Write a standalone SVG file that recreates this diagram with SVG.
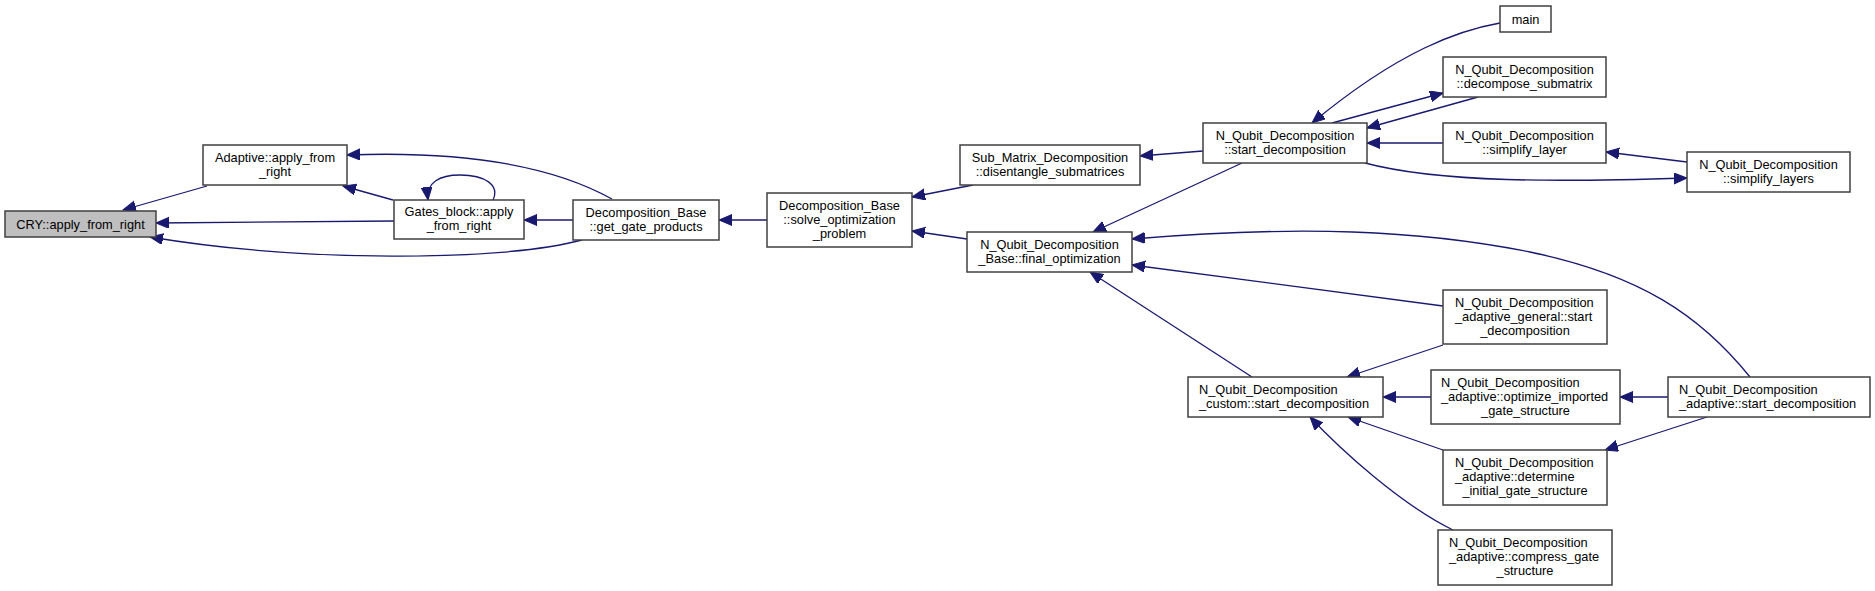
<svg xmlns="http://www.w3.org/2000/svg" width="1875" height="591" viewBox="0 0 1875 591">
<style>
.n rect{fill:#ffffff;stroke:#404040;stroke-width:1.5}
.n.hl rect{fill:#bfbfbf}
.n text{font-family:"Liberation Sans",Arial,sans-serif;font-size:12.8px;fill:#000000}
.c{text-anchor:middle}
.e path{fill:none;stroke:#191970;stroke-width:1.3;marker-end:url(#ah)}
</style>
<defs>
<marker id="ah" markerUnits="userSpaceOnUse" markerWidth="15" markerHeight="12" refX="13" refY="5.5" orient="auto">
<path d="M0,0 L13,5.5 L0,11 z" fill="#191970" stroke="#191970" stroke-width="1"/>
</marker>
</defs>
<rect width="1875" height="591" fill="#ffffff"/>
<g class="e" id="edges">
<path d="M207,186 L123,210"/>
<path d="M394,221 L156,223"/>
<path d="M582,240 C500,262 300,262 150,237"/>
<path d="M612,199 C560,170 480,150 347,155"/>
<path d="M393,200 L343,186"/>
<path d="M493,200 C500,185 485,175 460,175 C440,175 426,182 428,200"/>
<path d="M573,220 L524,220"/>
<path d="M767,220 L719,220"/>
<path d="M973,185 L912,197"/>
<path d="M967,239 L912,231"/>
<path d="M1203,151 L1140,156"/>
<path d="M1242,163 L1093,232"/>
<path d="M1500,23 C1460,30 1400,50 1312,123"/>
<path d="M1332,123 L1443,93"/>
<path d="M1478,97 L1367,128"/>
<path d="M1443,143 L1367,143"/>
<path d="M1365,163 C1440,183 1560,182 1687,178"/>
<path d="M1687,162 L1606,152"/>
<path d="M1750,377 C1700,315 1640,275 1530,252 C1420,230 1300,225 1132,239"/>
<path d="M1443,306 L1132,265"/>
<path d="M1252,377 L1090,272"/>
<path d="M1443,345 L1347,377"/>
<path d="M1431,397 L1383,397"/>
<path d="M1443,450 L1348,417"/>
<path d="M1453,530 C1400,504 1340,449 1310,417"/>
<path d="M1668,397 L1620,397"/>
<path d="M1707,417 L1605,450"/>
</g>
<g class="n hl" id="cry"><rect x="5" y="211" width="151" height="26"/><text class="c" x="80.5" y="228.5">CRY::apply_from_right</text></g>
<g class="n" id="adaptive"><rect x="203" y="145" width="144" height="40"/><text class="c" x="275" y="161.5">Adaptive::apply_from</text><text class="c" x="275" y="175.5">_right</text></g>
<g class="n" id="gates_block"><rect x="394" y="200" width="130" height="39"/><text class="c" x="459" y="216">Gates_block::apply</text><text class="c" x="459" y="230">_from_right</text></g>
<g class="n" id="get_gate_products"><rect x="573" y="200" width="146" height="40"/><text class="c" x="646" y="216.5">Decomposition_Base</text><text class="c" x="646" y="230.5">::get_gate_products</text></g>
<g class="n" id="solve"><rect x="767" y="193" width="145" height="54"/><text class="c" x="839.5" y="209.5">Decomposition_Base</text><text class="c" x="839.5" y="223.5">::solve_optimization</text><text class="c" x="839.5" y="237.5">_problem</text></g>
<g class="n" id="sub_matrix"><rect x="960" y="145" width="180" height="40"/><text class="c" x="1050" y="161.5">Sub_Matrix_Decomposition</text><text class="c" x="1050" y="175.5">::disentangle_submatrices</text></g>
<g class="n" id="final_opt"><rect x="967" y="232" width="165" height="40"/><text class="c" x="1049.5" y="248.5">N_Qubit_Decomposition</text><text class="c" x="1049.5" y="262.5">_Base::final_optimization</text></g>
<g class="n" id="start_dec"><rect x="1203" y="123" width="164" height="40"/><text class="c" x="1285" y="139.5">N_Qubit_Decomposition</text><text class="c" x="1285" y="153.5">::start_decomposition</text></g>
<g class="n" id="main"><rect x="1500" y="6" width="51" height="26"/><text class="c" x="1525.5" y="23.5">main</text></g>
<g class="n" id="decompose_sub"><rect x="1443" y="57" width="163" height="40"/><text class="c" x="1524.5" y="73.5">N_Qubit_Decomposition</text><text class="c" x="1524.5" y="87.5">::decompose_submatrix</text></g>
<g class="n" id="simplify_layer"><rect x="1443" y="123" width="163" height="40"/><text class="c" x="1524.5" y="139.5">N_Qubit_Decomposition</text><text class="c" x="1524.5" y="153.5">::simplify_layer</text></g>
<g class="n" id="simplify_layers"><rect x="1687" y="152" width="163" height="40"/><text class="c" x="1768.5" y="168.5">N_Qubit_Decomposition</text><text class="c" x="1768.5" y="182.5">::simplify_layers</text></g>
<g class="n" id="adaptive_general"><rect x="1443" y="290" width="164" height="54"/><text x="1455" y="306.5">N_Qubit_Decomposition</text><text x="1455" y="320.5">_adaptive_general::start</text><text class="c" x="1525" y="334.5">_decomposition</text></g>
<g class="n" id="custom_start"><rect x="1188" y="377" width="195" height="40"/><text x="1199" y="393.5">N_Qubit_Decomposition</text><text x="1199" y="407.5">_custom::start_decomposition</text></g>
<g class="n" id="optimize_imported"><rect x="1431" y="370" width="189" height="54"/><text x="1441" y="386.5">N_Qubit_Decomposition</text><text x="1441" y="400.5">_adaptive::optimize_imported</text><text class="c" x="1525.5" y="414.5">_gate_structure</text></g>
<g class="n" id="adaptive_start"><rect x="1668" y="377" width="202" height="40"/><text x="1679" y="393.5">N_Qubit_Decomposition</text><text x="1679" y="407.5">_adaptive::start_decomposition</text></g>
<g class="n" id="determine"><rect x="1443" y="450" width="164" height="55"/><text x="1455" y="466.5">N_Qubit_Decomposition</text><text x="1455" y="480.5">_adaptive::determine</text><text class="c" x="1525" y="494.5">_initial_gate_structure</text></g>
<g class="n" id="compress"><rect x="1438" y="530" width="174" height="55"/><text x="1449" y="546.5">N_Qubit_Decomposition</text><text x="1449" y="560.5">_adaptive::compress_gate</text><text class="c" x="1525" y="574.5">_structure</text></g>
</svg>
